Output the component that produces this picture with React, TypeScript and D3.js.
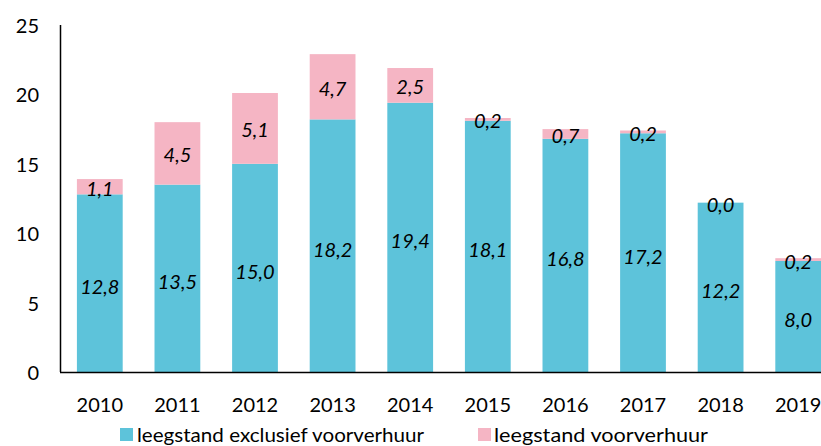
import React from "react";
import * as d3 from "d3";

const years = ["2010", "2011", "2012", "2013", "2014", "2015", "2016", "2017", "2018", "2019"];
const exclusief = [12.8, 13.5, 15.0, 18.2, 19.4, 18.1, 16.8, 17.2, 12.2, 8.0];
const voorverhuur = [1.1, 4.5, 5.1, 4.7, 2.5, 0.2, 0.7, 0.2, 0.0, 0.2];
const yTicks = [0, 5, 10, 15, 20, 25];
const seriesNames = ["leegstand exclusief voorverhuur", "leegstand voorverhuur"];

const W = 821;
const H = 446;
const BLUE = "#5DC3DA";
const PINK = "#F5B5C4";
const FONT = "Lato, 'Open Sans', sans-serif";

export default function App() {
  const x = d3.scaleBand().domain(years).range([61, 837]).paddingInner(0.41).paddingOuter(0.205);
  const y = d3.scaleLinear().domain([0, 25]).range([372, 25]);
  const fmt = (v: number) => v.toFixed(1).replace(".", ",");

  return (
    <svg width={W} height={H} style={{ position: "absolute", left: 0, top: 0, background: "#fff" }}>
      {yTicks.map((t) => (
        <text key={t} x={39} y={y(t)} textAnchor="end" dominantBaseline="central" fontFamily={FONT} fontSize={20} fill="#000">
          {t}
        </text>
      ))}
      {years.map((yr, i) => {
        const bx = x(yr)!;
        const bw = x.bandwidth();
        const e = exclusief[i];
        const v = voorverhuur[i];
        const cx = bx + bw / 2;
        return (
          <g key={yr}>
            <rect x={bx} y={y(e)} width={bw} height={y(0) - y(e)} fill={BLUE} />
            <rect x={bx} y={y(e + v)} width={bw} height={y(e) - y(e + v)} fill={PINK} />
            <text x={cx} y={(y(0) + y(e)) / 2 + 3} textAnchor="middle" dominantBaseline="central" fontFamily={FONT} fontStyle="italic" fontSize={20} fill="#000">
              {fmt(e)}
            </text>
            <text x={cx} y={(y(e) + y(e + v)) / 2 + 1} textAnchor="middle" dominantBaseline="central" fontFamily={FONT} fontStyle="italic" fontSize={20} fill="#000">
              {fmt(v)}
            </text>
            <text x={cx} y={404} textAnchor="middle" dominantBaseline="central" fontFamily={FONT} fontSize={20} fill="#000">
              {yr}
            </text>
          </g>
        );
      })}
      <line x1={60.5} x2={60.5} y1={25} y2={372} stroke="#000" strokeWidth={1.5} />
      <line x1={60} x2={W} y1={372.5} y2={372.5} stroke="#000" strokeWidth={1.5} />
      <rect x={120} y={428} width={13} height={13} fill={BLUE} />
      <text x={137} y={434} dominantBaseline="central" fontFamily={FONT} fontSize={19} fill="#000" textLength={287} lengthAdjust="spacingAndGlyphs">
        {seriesNames[0]}
      </text>
      <rect x={478} y={428} width={13} height={13} fill={PINK} />
      <text x={494} y={434} dominantBaseline="central" fontFamily={FONT} fontSize={19} fill="#000" textLength={214} lengthAdjust="spacingAndGlyphs">
        {seriesNames[1]}
      </text>
    </svg>
  );
}
